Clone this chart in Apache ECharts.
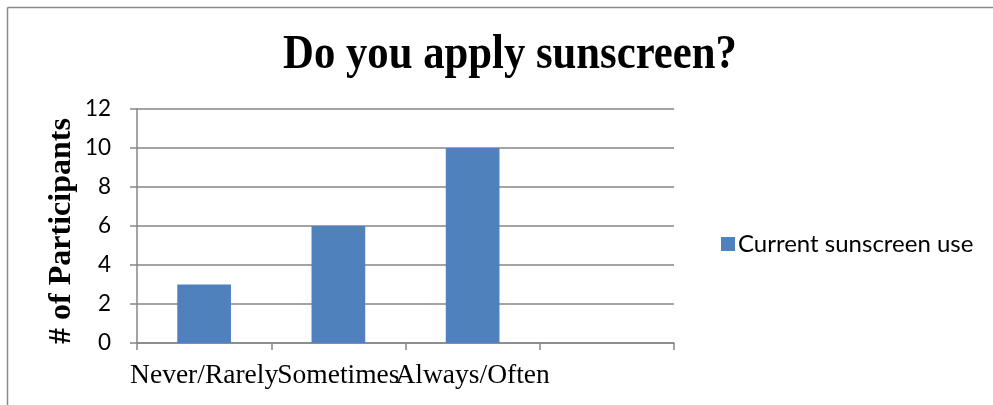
<!DOCTYPE html>
<html>
<head>
<meta charset="utf-8">
<script src="https://cdn.jsdelivr.net/npm/echarts@6/dist/echarts.min.js"></script>
<style>
  html, body { margin: 0; padding: 0; background: #fff; }
  #chart { width: 993px; height: 405px; }
</style>
</head>
<body>
<div id="chart"></div>
<script>
// Survey responses: how often participants apply sunscreen
const categories = ['Never/Rarely', 'Sometimes', 'Always/Often', ''];
const currentUse = [3, 6, 10, null];
const seriesName = 'Current sunscreen use';
const yTicks = { min: 0, max: 12, step: 2 };

const chart = echarts.init(document.getElementById('chart'));
const axisGray = '#868686';

chart.setOption({
  animation: false,
  backgroundColor: '#fff',
  grid: { left: 137, right: 319, top: 109, bottom: 62, containLabel: false },
  legend: {
    left: 716, top: 227,
    icon: 'rect', itemWidth: 14, itemHeight: 14, itemGap: 8,
    textStyle: { fontFamily: 'Lato', fontSize: 24, color: '#000', padding: [0, 0, 0, -2] },
    data: [seriesName]
  },
  xAxis: {
    type: 'category',
    data: categories,
    boundaryGap: true,
    axisLine: { lineStyle: { color: axisGray, width: 1.5 } },
    axisTick: { show: true, length: 7, alignWithLabel: false, lineStyle: { color: axisGray, width: 1.5 } },
    axisLabel: {
      interval: 0, hideOverlap: false, margin: 19,
      fontFamily: 'Liberation Serif', fontSize: 27.5, color: '#000'
    }
  },
  yAxis: {
    type: 'value',
    min: yTicks.min, max: yTicks.max, interval: yTicks.step,
    axisLine: { show: true, lineStyle: { color: axisGray, width: 1.5 } },
    axisTick: { show: true, length: 7, lineStyle: { color: axisGray, width: 1.5 } },
    splitLine: { show: true, lineStyle: { color: axisGray, width: 1.5 } },
    axisLabel: { margin: 26, fontFamily: 'Lato', fontSize: 22.5, color: '#000' }
  },
  series: [{
    name: seriesName,
    type: 'bar',
    data: currentUse,
    barWidth: '40%',
    itemStyle: { color: '#4F81BD' }
  }],
  graphic: [
    // chart frame (top and left edges)
    { type: 'line', shape: { x1: 7.5, y1: 7.5, x2: 993, y2: 7.5 }, style: { stroke: '#8a8a8a', lineWidth: 1.5 } },
    { type: 'line', shape: { x1: 7.5, y1: 7.5, x2: 7.5, y2: 405 }, style: { stroke: '#8a8a8a', lineWidth: 1.5 } },
    {
      type: 'text', x: 510, y: 56, scaleX: 0.89,
      style: {
        text: 'Do you apply sunscreen?', x: 0, y: 0,
        align: 'center', verticalAlign: 'middle',
        font: 'bold 48px "Liberation Serif"', fill: '#000'
      }
    },
    {
      type: 'text', x: 62, y: 231, rotation: Math.PI / 2,
      style: {
        text: '# of Participants', x: 0, y: 0,
        align: 'center', verticalAlign: 'middle',
        font: 'bold 32px "Liberation Serif"', fill: '#000'
      }
    }
  ]
});
</script>
</body>
</html>
